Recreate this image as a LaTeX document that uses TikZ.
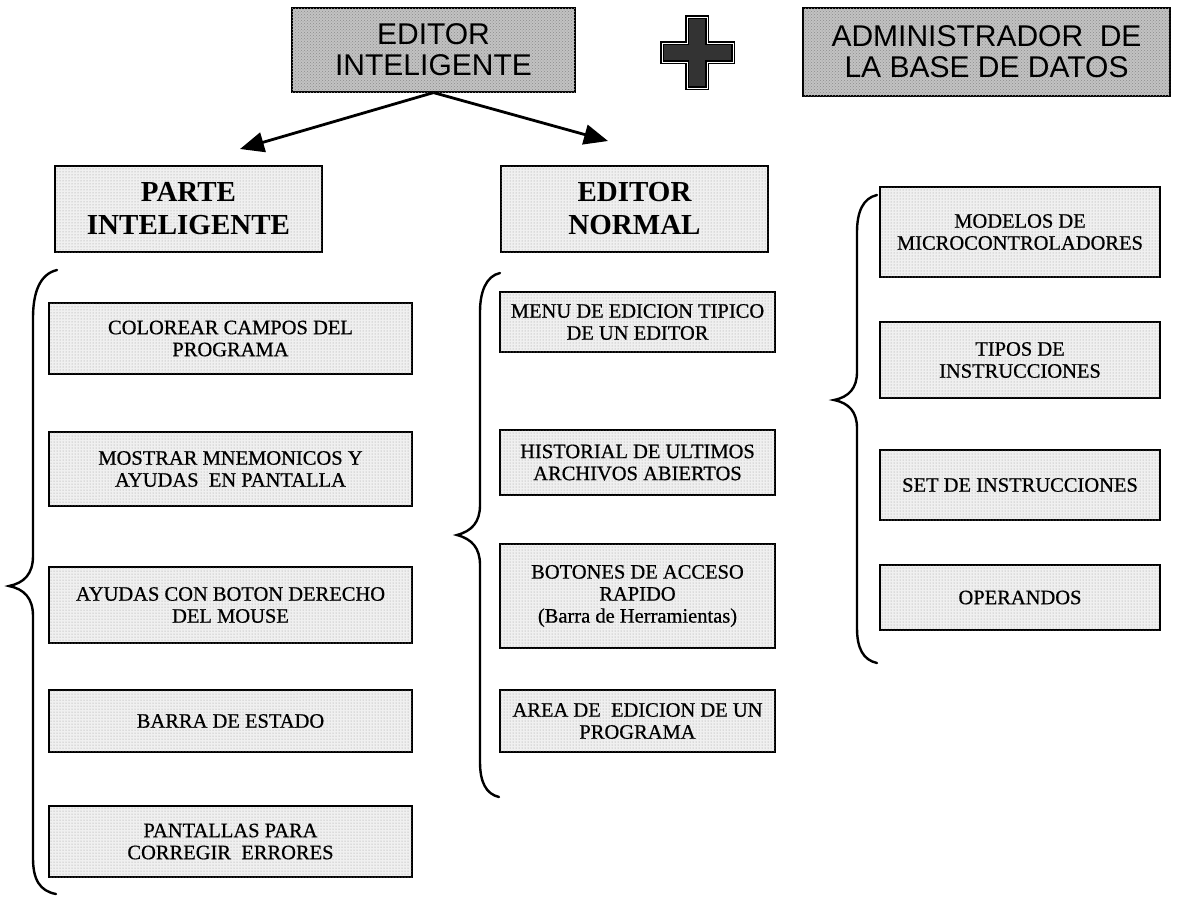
\documentclass[tikz,border=0pt]{standalone}
\usepackage{fontspec}
\setmainfont{Liberation Serif}
\newfontfamily\headsans{Liberation Sans}
\newfontfamily\itemserif[FakeBold=0.6]{Liberation Serif}
\usetikzlibrary{arrows.meta,shadows,patterns}

\tikzset{
  boxshadow/.style={drop shadow={shadow xshift=1.3pt, shadow yshift=-1.3pt, fill=black, opacity=1}},
  titlebox/.style={boxshadow, draw=black, line width=1.2pt, fill=black!24,
    postaction={pattern=crosshatch dots, pattern color=black!45},
    align=center, inner sep=0pt,
    font=\headsans\fontsize{30}{31}\selectfont},
  headbox/.style={boxshadow, draw=black, line width=1.2pt, fill=black!6,
    postaction={pattern=dots, pattern color=black!40},
    align=center, inner sep=0pt,
    font=\bfseries\fontsize{29}{33}\selectfont},
  itembox/.style={boxshadow, draw=black, line width=1.2pt, fill=black!6,
    postaction={pattern=dots, pattern color=black!40},
    align=center, inner sep=0pt,
    font=\itemserif\fontsize{20.5}{22}\selectfont},
  bracket/.style={draw=black, line width=2.4pt, line cap=round},
  branch/.style={draw=black, line width=2.8pt, -{Triangle[length=24pt,width=20pt]}},
}

\begin{document}
\begin{tikzpicture}[x=1pt,y=-1pt]
\useasboundingbox (0,0) rectangle (1190,898);

% top row
\node[titlebox, minimum width=283pt, minimum height=84pt] (ei) at (433.5,50) {EDITOR\\INTELIGENTE};
\node[titlebox, minimum width=367pt, minimum height=88pt] (adm) at (986.5,52) {ADMINISTRADOR\ \ DE\\LA BASE DE DATOS};

% plus sign between the two top boxes
\filldraw[draw=black, line width=1.2pt, double=white, double distance=1pt, fill=black!80]
  (687,17) -- (707,17) -- (707,43) -- (733,43) -- (733,62) -- (707,62) -- (707,88)
  -- (687,88) -- (687,62) -- (662,62) -- (662,43) -- (687,43) -- cycle;

% the two branches
\node[headbox, minimum width=267pt, minimum height=86pt] (pi) at (188.5,209) {PARTE\\INTELIGENTE};
\node[headbox, minimum width=267pt, minimum height=86pt] (en) at (634.5,209) {EDITOR\\NORMAL};
\coordinate (tipL) at (240,149);
\coordinate (tipR) at (608,141);
\draw[branch] (ei.south) -- (tipL);
\draw[branch] (ei.south) -- (tipR);

% intelligent part
\node[itembox, minimum width=363pt, minimum height=71pt] (c1) at (230.5,338.5) {COLOREAR CAMPOS DEL\\PROGRAMA};
\node[itembox, minimum width=363pt, minimum height=74pt] (c2) at (230.5,469) {MOSTRAR MNEMONICOS Y\\AYUDAS\ \ EN PANTALLA};
\node[itembox, minimum width=363pt, minimum height=76pt] (c3) at (230.5,605) {AYUDAS CON BOTON DERECHO\\DEL MOUSE};
\node[itembox, minimum width=363pt, minimum height=62pt] (c4) at (230.5,721) {BARRA DE ESTADO};
\node[itembox, minimum width=363pt, minimum height=71pt] (c5) at (230.5,841.5) {PANTALLAS PARA\\CORREGIR\ \ ERRORES};

% normal editor
\node[itembox, minimum width=275pt, minimum height=60pt] (m1) at (637.5,322) {MENU DE EDICION TIPICO\\DE UN EDITOR};
\node[itembox, minimum width=275pt, minimum height=65pt] (m2) at (637.5,462.5) {HISTORIAL DE ULTIMOS\\ARCHIVOS ABIERTOS};
\node[itembox, minimum width=275pt, minimum height=104pt] (m3) at (637.5,596) {BOTONES DE ACCESO\\RAPIDO\\(Barra de Herramientas)};
\node[itembox, minimum width=275pt, minimum height=62pt] (m4) at (637.5,721) {AREA DE\ \ EDICION DE UN\\PROGRAMA};

% database administrator
\node[itembox, minimum width=280pt, minimum height=90pt] (r1) at (1020,232) {MODELOS DE\\MICROCONTROLADORES};
\node[itembox, minimum width=280pt, minimum height=76pt] (r2) at (1020,360) {TIPOS DE\\INSTRUCCIONES};
\node[itembox, minimum width=280pt, minimum height=70pt] (r3) at (1020,485) {SET DE INSTRUCCIONES};
\node[itembox, minimum width=280pt, minimum height=65pt] (r4) at (1020,597.5) {OPERANDOS};

% curly brackets grouping each column
\draw[bracket] (57,270) .. controls (40,274) and (33,292) .. (33,318) -- (33,556)
  .. controls (33,574) and (24,583) .. (9,586) .. controls (24,589) and (33,598) .. (33,616)
  -- (33,858) .. controls (33,880) and (40,891) .. (56,894);
\draw[bracket] (500,273) .. controls (486,276) and (480,292) .. (480,312) -- (480,505)
  .. controls (480,522) and (472,531) .. (457,535) .. controls (472,539) and (480,548) .. (480,565)
  -- (480,762) .. controls (480,782) and (486,794) .. (499,797);
\draw[bracket] (877,195) .. controls (863,198) and (857,212) .. (857,232) -- (857,372)
  .. controls (857,388) and (849,397) .. (834,400) .. controls (849,403) and (857,412) .. (857,428)
  -- (857,628) .. controls (857,648) and (863,660) .. (877,663);
\end{tikzpicture}
\end{document}
